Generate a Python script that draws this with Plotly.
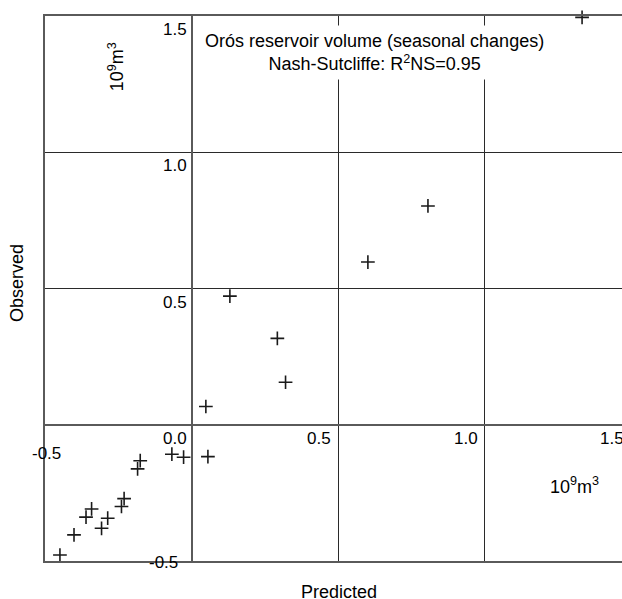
import plotly.graph_objects as go

# Data (units: 10^9 m^3)
PREDICTED = [1.333, 0.807, 0.602, 0.131, 0.293, 0.321, 0.049, 0.056, -0.027, -0.067,
             -0.175, -0.184, -0.230, -0.239, -0.286, -0.307, -0.341, -0.360, -0.401, -0.449]
OBSERVED = [1.495, 0.803, 0.597, 0.472, 0.317, 0.156, 0.067, -0.117, -0.119, -0.108,
            -0.132, -0.162, -0.271, -0.300, -0.343, -0.380, -0.309, -0.339, -0.404, -0.478]

X_TICKS = [-0.5, 0.0, 0.5, 1.0, 1.5]
Y_TICKS = [-0.5, 0.0, 0.5, 1.0, 1.5]
X_TICK_LABELS = ["-0.5", "0.0", "0.5", "1.0", "1.5"]
Y_TICK_LABELS = ["-0.5", "0.0", "0.5", "1.0", "1.5"]

TITLE = "Orós reservoir volume (seasonal changes)<br>Nash-Sutcliffe: R<sup>2</sup>NS=0.95"
UNIT = "10<sup>9</sup>m<sup>3</sup>"

X_RANGE = [-0.5, 1.5]
Y_RANGE = [-0.5, 1.5]

FONT = "Liberation Sans, Arial, sans-serif"
TICK_FONT = dict(family=FONT, size=17, color="black")
LABEL_FONT = dict(family=FONT, size=18, color="black")

fig = go.Figure()
fig.add_trace(go.Scatter(
    x=PREDICTED, y=OBSERVED, mode="markers",
    marker=dict(symbol="cross-thin-open", size=9.8,
                line=dict(width=1.6, color="#1a1a1a"), color="#1a1a1a"),
    cliponaxis=False, showlegend=False,
))

axis_common = dict(
    showgrid=True, gridcolor="#2a2a2a", gridwidth=1,
    zeroline=True, zerolinecolor="#5a5a5a", zerolinewidth=2,
    showline=True, linecolor="#5a5a5a", linewidth=2,
    showticklabels=False, ticks="", dtick=0.5, tick0=-0.5,
)
fig.update_xaxes(range=X_RANGE, mirror=True, **axis_common)
fig.update_yaxes(range=Y_RANGE, mirror=False, **axis_common)

annotations = []
# y tick labels (left of the y=0 axis, just below each gridline)
for v, t in zip(Y_TICKS, Y_TICK_LABELS):
    if v == -0.5:
        annotations.append(dict(x=0, y=v, xref="x", yref="y", text=t, showarrow=False,
                                xanchor="right", yanchor="middle", xshift=-12, yshift=-1,
                                font=TICK_FONT))
    else:
        annotations.append(dict(x=0, y=v, xref="x", yref="y", text=t, showarrow=False,
                                xanchor="right", yanchor="top", xshift=-3, yshift=-2,
                                font=TICK_FONT))
# x tick labels (below the x=0 axis, left of each gridline)
for v, t in zip(X_TICKS, X_TICK_LABELS):
    if v == 0.0:
        continue  # shares its position with the y "0.0" label
    if v == -0.5:
        annotations.append(dict(x=v, y=0, xref="x", yref="y", text=t, showarrow=False,
                                xanchor="center", yanchor="top", xshift=1, yshift=-17,
                                font=TICK_FONT))
    else:
        annotations.append(dict(x=v, y=0, xref="x", yref="y", text=t, showarrow=False,
                                xanchor="right", yanchor="top", xshift=-5, yshift=-2,
                                font=TICK_FONT))

# Title box
annotations.append(dict(x=0.562, y=0.9835, xref="paper", yref="paper", text=TITLE,
                        showarrow=False, xanchor="center", yanchor="top", align="center",
                        bgcolor="white", borderpad=5, font=LABEL_FONT))
# Axis titles and units
annotations.append(dict(x=-0.0478, y=0.51, xref="paper", yref="paper", text="Observed",
                        showarrow=False, textangle=-90, xanchor="center", yanchor="middle",
                        font=LABEL_FONT))
annotations.append(dict(x=0.5017, y=-0.0569, xref="paper", yref="paper", text="Predicted",
                        showarrow=False, xanchor="center", yanchor="middle",
                        font=LABEL_FONT))
annotations.append(dict(x=0.1212, y=0.906, xref="paper", yref="paper", text=UNIT,
                        showarrow=False, textangle=-90, xanchor="center", yanchor="middle",
                        font=LABEL_FONT))
annotations.append(dict(x=0.9044, y=0.139, xref="paper", yref="paper", text=UNIT,
                        showarrow=False, xanchor="center", yanchor="middle",
                        font=LABEL_FONT))

# The plot area's right edge (x=1.5) lies just beyond the window, as in the reference.
fig.update_layout(
    width=640, height=599,
    margin=dict(l=45, r=9, t=16, b=38),
    plot_bgcolor="white", paper_bgcolor="white",
    annotations=annotations,
    font=dict(family=FONT),
)

fig.write_html(
    "out.html",
    config={"displayModeBar": False},
    post_script="document.body.style.margin='0';document.body.style.overflow='hidden';",
)
